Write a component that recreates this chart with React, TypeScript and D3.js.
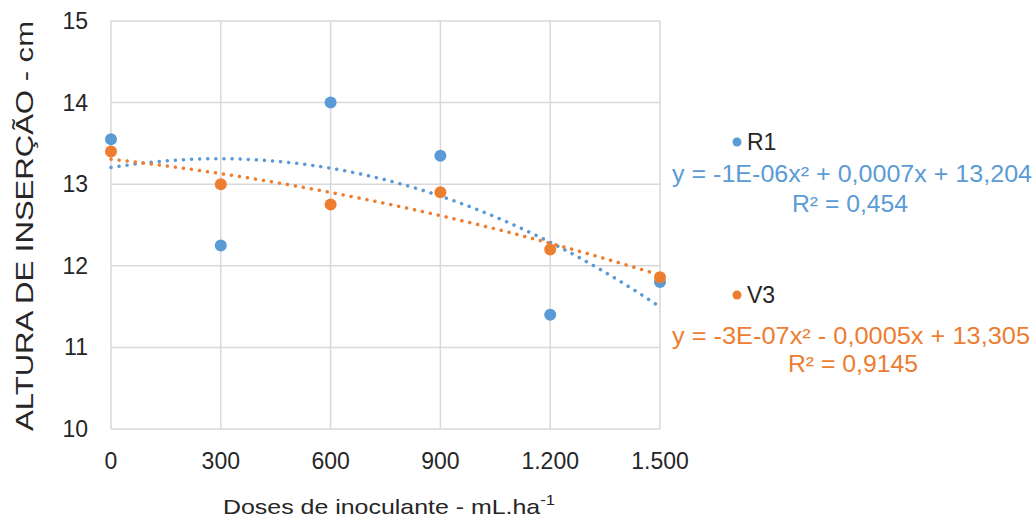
import React from "react";
import * as d3 from "d3";

const doses = [0, 300, 600, 900, 1200, 1500];
const r1Values = [13.55, 12.25, 14.0, 13.35, 11.4, 11.8];
const v3Values = [13.4, 13.0, 12.75, 12.9, 12.2, 11.86];
const xTicks = [0, 300, 600, 900, 1200, 1500];
const xTickLabels = ["0", "300", "600", "900", "1.200", "1.500"];
const yTicks = [10, 11, 12, 13, 14, 15];

const BLUE = "#5B9BD5";
const ORANGE = "#ED7D31";
const TXT = "#262626";
const FONT = "'Liberation Sans', Arial, sans-serif";

// least squares quadratic fit, like excel's polynomial trendline
function polyfit2(xs: number[], ys: number[]) {
  const s = [0, 0, 0, 0, 0];
  const t = [0, 0, 0];
  xs.forEach((x, i) => {
    for (let k = 0; k < 5; k++) s[k] += Math.pow(x, k);
    for (let k = 0; k < 3; k++) t[k] += ys[i] * Math.pow(x, k);
  });
  const m = [
    [s[0], s[1], s[2], t[0]],
    [s[1], s[2], s[3], t[1]],
    [s[2], s[3], s[4], t[2]],
  ];
  for (let i = 0; i < 3; i++) {
    for (let j = i + 1; j < 3; j++) {
      const f = m[j][i] / m[i][i];
      for (let k = i; k < 4; k++) m[j][k] -= f * m[i][k];
    }
  }
  const c = [0, 0, 0];
  for (let i = 2; i >= 0; i--) {
    let v = m[i][3];
    for (let k = i + 1; k < 3; k++) v -= m[i][k] * c[k];
    c[i] = v / m[i][i];
  }
  return (x: number) => c[0] + c[1] * x + c[2] * x * x;
}

export default function App() {
  const width = 1035;
  const height = 523;
  const left = 111, right = 660, top = 21, bottom = 429;

  const x = d3.scaleLinear().domain([0, 1500]).range([left, right]);
  const y = d3.scaleLinear().domain([10, 15]).range([bottom, top]);

  const series = [
    { name: "R1", values: r1Values, color: BLUE },
    { name: "V3", values: v3Values, color: ORANGE },
  ];

  const line = d3.line<number>().x((d) => x(d));
  const samples = d3.range(0, 1500.1, 10);

  const fit = (cx: number, w: number) => ({
    x: cx,
    textAnchor: "middle" as const,
    textLength: w,
    lengthAdjust: "spacingAndGlyphs" as const,
  });

  return (
    <svg width={width} height={height} style={{ position: "absolute", left: 0, top: 0 }}>
      <rect width={width} height={height} fill="#fff" />
      {yTicks.map((t) => (
        <line key={"gy" + t} x1={left} x2={right} y1={y(t)} y2={y(t)} stroke="#d9d9d9" strokeWidth={1.5} />
      ))}
      {xTicks.map((t) => (
        <line key={"gx" + t} x1={x(t)} x2={x(t)} y1={top} y2={bottom} stroke="#d9d9d9" strokeWidth={1.5} />
      ))}
      {yTicks.map((t) => (
        <text key={"ty" + t} x={88} y={y(t)} dy="0.35em" textAnchor="end" fontSize={23} fill={TXT} fontFamily={FONT}>
          {t}
        </text>
      ))}
      {xTicks.map((t, i) => (
        <text key={"tx" + t} x={x(t)} y={461} dy="0.35em" textAnchor="middle" fontSize={23} fill={TXT} fontFamily={FONT}>
          {xTickLabels[i]}
        </text>
      ))}
      <text
        transform={`translate(33, 226) rotate(-90)`}
        {...fit(0, 410)}
        fontSize={24}
        fill={TXT}
        fontFamily={FONT}
      >
        ALTURA DE INSERÇÃO - cm
      </text>
      <text y={514} {...fit(389, 332)} fontSize={21} fill={TXT} fontFamily={FONT}>
        Doses de inoculante - mL.ha
        <tspan dy={-9} fontSize={14}>-1</tspan>
      </text>

      {series.map((s) => {
        const f = polyfit2(doses, s.values);
        const l = line.y((d) => y(f(d)));
        return (
          <path
            key={"trend" + s.name}
            d={l(samples) || ""}
            fill="none"
            stroke={s.color}
            strokeWidth={3.5}
            strokeDasharray="0.1 8"
            strokeLinecap="round"
          />
        );
      })}
      {series.map((s) =>
        s.values.map((v, i) => (
          <circle key={s.name + i} cx={x(doses[i])} cy={y(v)} r={6} fill={s.color} />
        ))
      )}

      {/* legend + trendline equations */}
      <circle cx={737} cy={142} r={4.5} fill={BLUE} />
      <text x={747} y={142} dy="0.35em" fontSize={23} fill={TXT} fontFamily={FONT}>R1</text>
      <text y={174} dy="0.35em" {...fit(852, 360)} fontSize={23} fill={BLUE} fontFamily={FONT}>
        y = -1E-06x² + 0,0007x + 13,204
      </text>
      <text y={204} dy="0.35em" {...fit(850, 116)} fontSize={23} fill={BLUE} fontFamily={FONT}>
        R² = 0,454
      </text>

      <circle cx={737} cy={295} r={4.5} fill={ORANGE} />
      <text x={747} y={295} dy="0.35em" fontSize={23} fill={TXT} fontFamily={FONT}>V3</text>
      <text y={336} dy="0.35em" {...fit(851, 358)} fontSize={23} fill={ORANGE} fontFamily={FONT}>
        y = -3E-07x² - 0,0005x + 13,305
      </text>
      <text y={364} dy="0.35em" {...fit(853, 130)} fontSize={23} fill={ORANGE} fontFamily={FONT}>
        R² = 0,9145
      </text>
    </svg>
  );
}
